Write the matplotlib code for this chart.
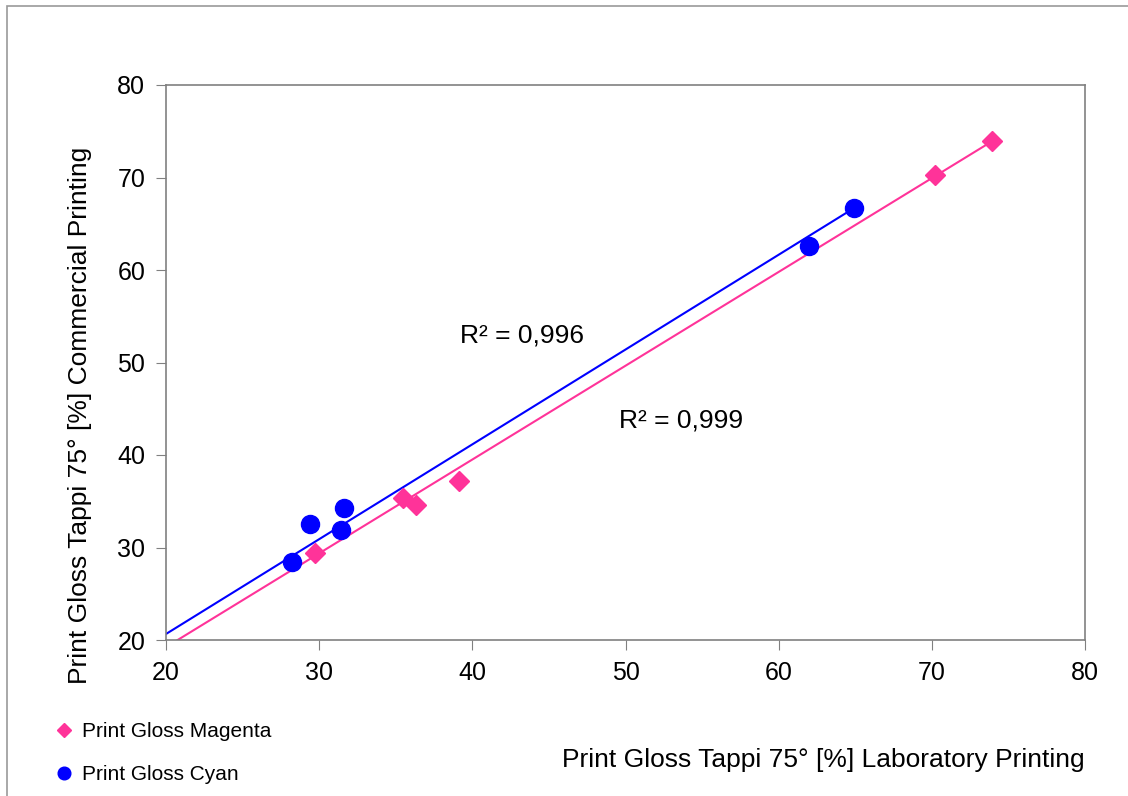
import numpy as np
import matplotlib.pyplot as plt
from matplotlib.patches import Rectangle

plt.rcParams['font.family'] = ['Liberation Sans', 'DejaVu Sans']

# data
mag_x = [29.7, 35.5, 36.3, 39.1, 70.2, 73.9]
mag_y = [29.4, 35.3, 34.6, 37.2, 70.3, 74.0]
cyan_x = [28.2, 29.4, 31.4, 31.6, 62.0, 64.9]
cyan_y = [28.4, 32.5, 31.9, 34.3, 62.6, 66.7]
# trendlines as shown in the chart (slope, intercept)
mag_fit = (1.014, -1.05)
cyan_fit = (1.025, 0.15)
r2_mag = "R² = 0,999"
r2_cyan = "R² = 0,996"

magenta = '#FF3399'
blue = '#0000FF'
grey = '#808080'

fig = plt.figure(figsize=(11.28, 7.96), dpi=100)
fig.patches.append(Rectangle((7/1128, -0.02), 1.1, 1.02 - 6/796, transform=fig.transFigure,
                             fill=False, edgecolor='#999999', lw=1.2))
ax = fig.add_axes([166/1128, 1-640/796, (1085-166)/1128, (640-85)/796])

# trendlines, drawn back to x = 20
for xs, fit, c in [(mag_x, mag_fit, magenta), (cyan_x, cyan_fit, blue)]:
    k, d = fit
    xx = np.array([20, max(xs)])
    ax.plot(xx, k*xx + d, color=c, lw=1.5, zorder=2)

ax.plot(mag_x, mag_y, 'D', color=magenta, ms=10, ls='none', zorder=3, label='Print Gloss Magenta')
ax.plot(cyan_x, cyan_y, 'o', color=blue, ms=13, ls='none', zorder=3, label='Print Gloss Cyan')

ax.set_xlim(20, 80)
ax.set_ylim(20, 80)
ax.set_xticks(range(20, 81, 10))
ax.set_yticks(range(20, 81, 10))
ax.tick_params(direction='out', length=7, color=grey, labelsize=18, pad=8)
for s in ax.spines.values():
    s.set_color(grey)
    s.set_linewidth(1.2)

ax.text(39.2, 52.9, r2_cyan, fontsize=19, va='center', ha='left')
ax.text(49.6, 43.7, r2_mag, fontsize=19, va='center', ha='left')

fig.text(1085/1128, 1-760/796, "Print Gloss Tappi 75° [%] Laboratory Printing",
         fontsize=19, ha='right', va='center')
fig.text(80/1128, 1-415/796, "Print Gloss Tappi 75° [%] Commercial Printing",
         fontsize=19, ha='center', va='center', rotation=90)

h, l = ax.get_legend_handles_labels()
fig.legend(h, l, loc='upper left', bbox_to_anchor=(47/1128, 1-714/796), frameon=False,
           fontsize=15, markerscale=0.7, handlelength=0.8, handletextpad=0.5, labelspacing=1.15,
           borderaxespad=0)

fig.savefig('out.png', dpi=100)
